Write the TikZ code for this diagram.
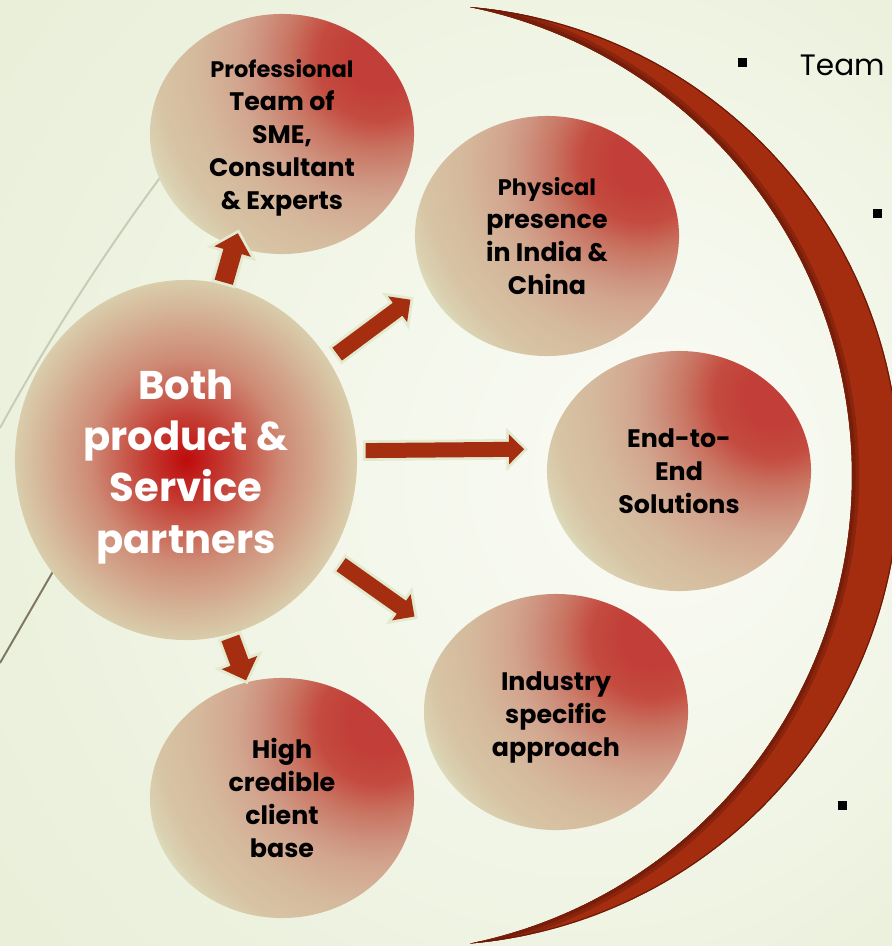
\documentclass[tikz,border=0pt]{standalone}
\usepackage{fontspec}
\setmainfont{Poppins}
\usetikzlibrary{calc,shapes.geometric}
\definecolor{wispWhite}{HTML}{FBFCF7}
\definecolor{wispMid}{HTML}{F1F5E6}
\definecolor{wispEdge}{HTML}{E4EBD1}
\definecolor{bubRed}{HTML}{C13F38}
\definecolor{bubScarlet}{HTML}{C44B3F}
\definecolor{bubRose}{HTML}{C97563}
\definecolor{bubSalmon}{HTML}{CE9480}
\definecolor{bubPink}{HTML}{D2A58E}
\definecolor{bubTan}{HTML}{D5B99C}
\definecolor{bubBeige}{HTML}{D7C4A4}
\definecolor{bubSand}{HTML}{DAD0B0}
\definecolor{bubSage}{HTML}{DCDDBC}
\definecolor{hubRed}{HTML}{BE0B0C}
\definecolor{hubCrimson}{HTML}{C43D34}
\definecolor{hubRose}{HTML}{CE8A75}
\definecolor{hubSand}{HTML}{D9CDAB}
\definecolor{arrowRed}{HTML}{A52E10}
\definecolor{arrowHalo}{HTML}{E3EAD0}
\definecolor{cresRed}{HTML}{A42D10}
\definecolor{cresDark}{HTML}{6B1A08}
\definecolor{wispGrey}{HTML}{C8CCB7}
\definecolor{wispBrown}{HTML}{7C7862}
\pgfdeclareradialshading{wispshade}{\pgfpoint{14bp}{0bp}}{color(0bp)=(wispWhite); color(20bp)=(wispMid); color(48bp)=(wispEdge); color(50bp)=(wispEdge)}
\pgfdeclareradialshading{bubshade}{\pgfpoint{0bp}{0bp}}{color(0bp)=(bubRed); color(3bp)=(bubRed); color(6bp)=(bubScarlet); color(9bp)=(bubRose); color(12bp)=(bubSalmon); color(14bp)=(bubPink); color(18bp)=(bubTan); color(22bp)=(bubBeige); color(24bp)=(bubSand); color(25bp)=(bubSage); color(50bp)=(bubSage)}
\pgfdeclareradialshading{hubshade}{\pgfpoint{0bp}{0bp}}{color(0bp)=(hubRed); color(6bp)=(hubCrimson); color(14bp)=(hubRose); color(25bp)=(hubSand); color(50bp)=(hubSand)}
\newcommand\leadline[1]{{\fontsize{16}{23.5}\selectfont #1}}
% block arrow, #1 = shaft width in px
\newcommand\BlockArrow[3][17]{%
  \pgfmathsetmacro\aw{0.0125*#1}% half shaft
  \pgfmathsetmacro\ah{0.025*#1}% half head
  \pgfmathsetmacro\al{0.025*#1}% head length
  \coordinate (ba) at #2;
  \coordinate (bb) at #3;
  \coordinate (bm) at ($(bb)!\al cm!(ba)$);
  \path[arrowfill] ($(ba)!\aw cm!90:(bb)$) -- ($(bm)!\aw cm!90:(bb)$)
    -- ($(bm)!\ah cm!90:(bb)$) -- (bb) -- ($(bm)!\ah cm!-90:(bb)$)
    -- ($(bm)!\aw cm!-90:(bb)$) -- ($(ba)!\aw cm!-90:(bb)$) -- cycle;
}

\begin{document}
\begin{tikzpicture}[x=0.025cm, y=-0.025cm,
  bubble/.style={ellipse, inner sep=0pt, minimum width=6.6cm,
    minimum height=6cm, align=center, text=black,
    font=\bfseries\fontsize{18}{23.5}\selectfont,
    path picture={\shade[shading=bubshade]
      ($(path picture bounding box.center)+(95,-74)$) circle [radius=250];}},
  hubnode/.style={ellipse, shading=hubshade, inner sep=0pt, minimum width=8.55cm,
    minimum height=9cm, align=center, text=white,
    font=\bfseries\fontsize{28.5}{36.3}\selectfont},
  arrowfill/.style={fill=arrowRed, preaction={draw=arrowHalo, line width=4pt, line join=miter}},
  bulletsq/.style={fill=black, inner sep=0pt, minimum size=6.4pt}]

\useasboundingbox (0,0) rectangle (892,946);
\shade[shading=wispshade] (0,0) rectangle (892,946);

% wisps
\draw[wispGrey, line width=1.4pt] (200,126) .. controls (120,225) and (45,345) .. (0,428);
\draw[wispBrown, line width=1.4pt] (110,473) -- (0,663);

% crescent
\fill[cresRed] (470,7) arc[start angle=-85.1, end angle=85.1, radius=470]
  arc[start angle=78.4, end angle=-78.4, radius=478] -- cycle;
\begin{scope}
\clip (470,7) arc[start angle=-85.1, end angle=85.1, radius=470]
  arc[start angle=78.4, end angle=-78.4, radius=478] -- cycle;
\draw[cresDark!45!cresRed, line width=10pt] (470.1,943.3) arc[start angle=78.4, end angle=-78.4, radius=478];
\draw[cresDark!80!cresRed, line width=5pt] (470.1,943.3) arc[start angle=78.4, end angle=-78.4, radius=478];
\draw[cresDark, line width=1.6pt] (470,7) arc[start angle=-85.1, end angle=85.1, radius=470];
\end{scope}

\node[hubnode] (hub) at (186,460) {\rule{0pt}{31pt}Both\\product \&\\Service\\partners};
\node[bubble] (prof) at (282,134) {\rule{0pt}{18pt}\leadline{Professional}\\Team of\\SME,\\Consultant\\\& Experts};
\node[bubble] (phys) at (547,236) {\leadline{Physical}\\presence\\in India \&\\China};
\node[bubble] (endto) at (679,471) {End-to-\\End\\Solutions};
\node[bubble, minimum height=5.9cm] (indus) at (556,712) {\rule{0pt}{20.5pt}Industry\\specific\\approach};
\node[bubble] (high) at (282,798) {High\\credible\\client\\base};

\BlockArrow[19]{($(hub.center)!1.01!(hub.78)$)}{($(prof.center)!0.89!(prof.246)$)}
\BlockArrow[16]{($(hub.center)!1.06!(hub.35)$)}{($(phys.center)!1.16!(phys.205)$)}
\BlockArrow[15]{($(hub.center)!1.05!(hub.3)$)}{($(endto.center)!1.185!(endto.172)$)}
\BlockArrow[16]{($(hub.center)!1.075!(hub.326)$)}{($(indus.center)!1.34!(indus.146)$)}
\BlockArrow[19]{($(hub.center)!1.02!(hub.284)$)}{($(high.center)!1.015!(high.107)$)}

\node[bulletsq] (b1) at (742,63) {};
\node[bulletsq] (b2) at (877,213) {};
\node[bulletsq] (b3) at (842,805) {};
\node[anchor=base west, font=\fontsize{21}{25}\selectfont] (teamtxt) at (795,75) {Team};
\end{tikzpicture}
\end{document}
